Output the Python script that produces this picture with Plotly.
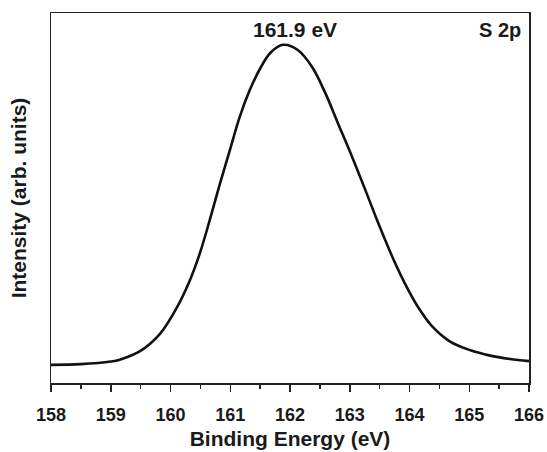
import plotly.graph_objects as go

# Binding energy (eV) and intensity (arb. units)
energy = [158.00, 158.50, 159.00, 159.15, 159.49, 159.82, 160.11, 160.33, 160.49,
          160.66, 160.83, 161.00, 161.16, 161.33, 161.50, 161.67, 161.88, 162.13,
          162.37, 162.59, 162.80, 163.04, 163.26, 163.47, 163.71, 163.92, 164.14,
          164.38, 164.68, 165.01, 165.35, 165.68, 166.00]
intensity = [4.9, 5.1, 5.8, 6.3, 8.6, 13.2, 20.5, 28.0, 35.0,
             44.2, 54.0, 63.3, 72.0, 79.3, 85.0, 89.2, 91.4, 90.0,
             85.4, 78.4, 70.3, 61.1, 52.2, 43.5, 34.2, 27.0, 20.6,
             15.3, 11.2, 8.9, 7.4, 6.5, 5.9]

x_ticks = [158, 159, 160, 161, 162, 163, 164, 165, 166]
peak_label = "161.9 eV"
panel_label = "S 2p"

FONT = "Liberation Sans, Arial, sans-serif"
TXT = "#1a1a1a"

fig = go.Figure()
fig.add_trace(go.Scatter(
    x=energy, y=intensity, mode="lines",
    line=dict(color="#111111", width=2.6, shape="spline", smoothing=1.0),
    showlegend=False, hoverinfo="skip",
))

fig.update_layout(
    width=547, height=452,
    margin=dict(l=51, r=18, t=13, b=69),
    paper_bgcolor="white", plot_bgcolor="white",
    font=dict(family=FONT, color=TXT),
    xaxis=dict(
        range=[158, 166], tickvals=x_ticks, ticktext=[str(t) for t in x_ticks],
        automargin=False,
        showline=True, linecolor="#222", linewidth=1.5, mirror=True,
        ticks="outside", ticklen=7, tickwidth=1.5, tickcolor="#222",
        minor=dict(dtick=0.5, ticks="outside", ticklen=4, tickwidth=1.5, tickcolor="#222"),
        showgrid=False, zeroline=False, ticklabelstandoff=8,
        tickfont=dict(family=FONT, size=18, color=TXT, weight="bold"),
        title=dict(text="<b>Binding Energy (eV)</b>", font=dict(family=FONT, size=21, color=TXT), standoff=7),
    ),
    yaxis=dict(
        range=[0, 100], automargin=False,
        showline=True, linecolor="#222", linewidth=1.5, mirror=True,
        showticklabels=False, ticks="", showgrid=False, zeroline=False,
        title=dict(text="<b>Intensity (arb. units)</b>", font=dict(family=FONT, size=21, color=TXT), standoff=17),
    ),
    annotations=[
        dict(text="<b>" + peak_label + "</b>", xref="paper", yref="paper",
             x=(295 - 51) / 478, y=(383 - 30) / 370, xanchor="center", yanchor="middle",
             showarrow=False, font=dict(family=FONT, size=21, color=TXT)),
        dict(text="<b>" + panel_label + "</b>", xref="paper", yref="paper",
             x=(523 - 51) / 478, y=(383 - 30) / 370, xanchor="right", yanchor="middle",
             showarrow=False, font=dict(family=FONT, size=20, color=TXT)),
    ],
)

# remove the default page margin so the 547x452 figure fills the window exactly
fig.write_html(
    "out.html",
    config={"displayModeBar": False, "staticPlot": True},
    post_script="document.body.style.margin='0';document.body.style.overflow='hidden';",
)
